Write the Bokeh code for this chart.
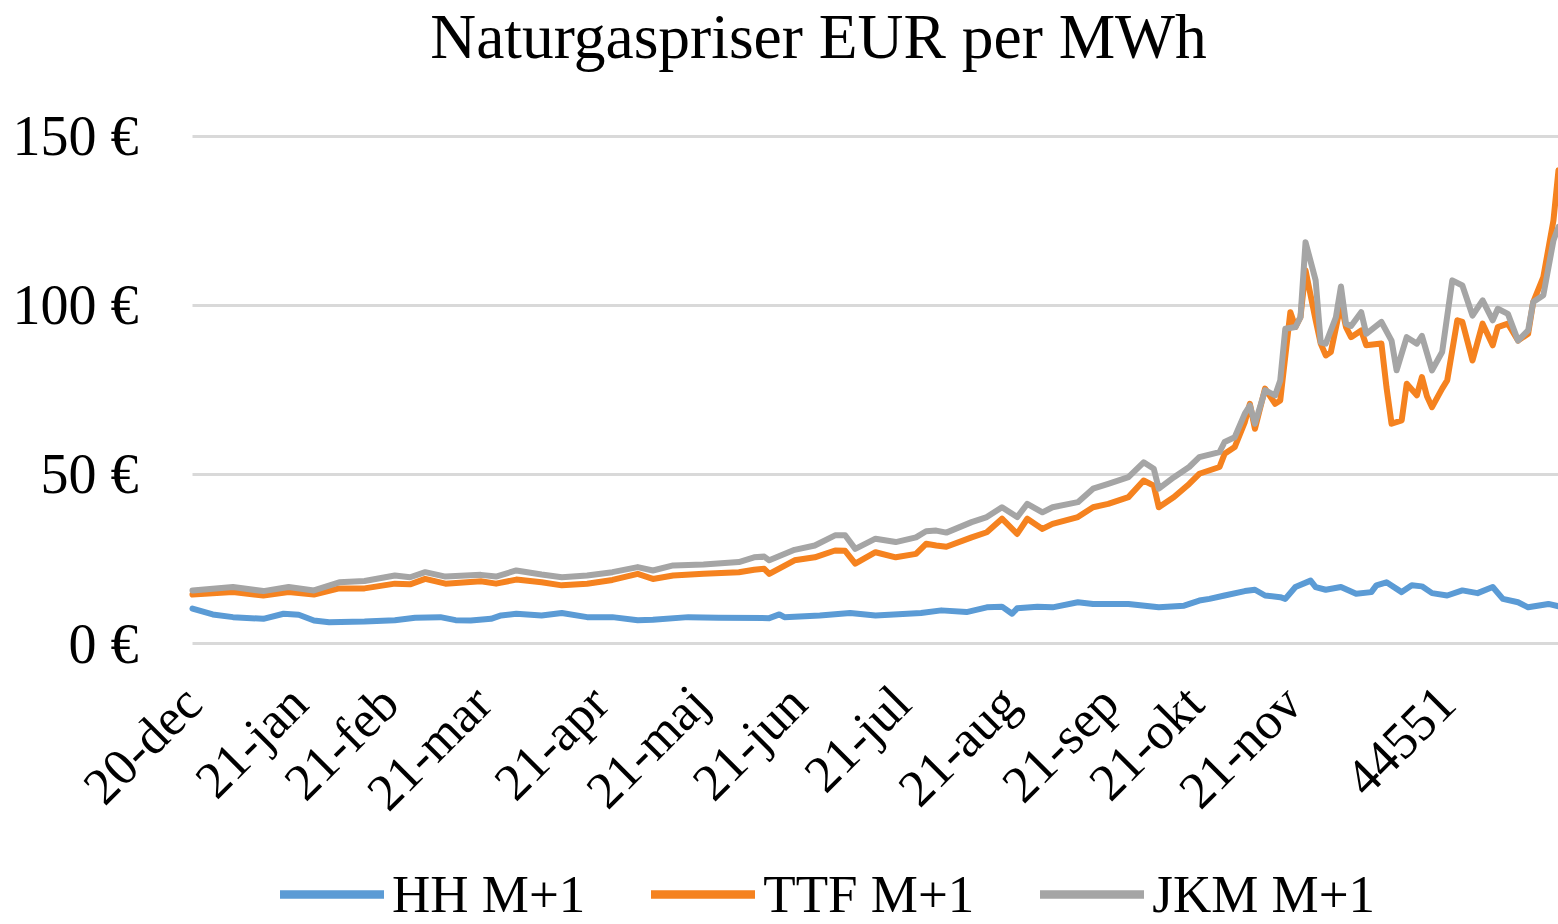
import math
import numpy as np
from bokeh.plotting import figure
from bokeh.models import FixedTicker, Range1d, Legend, LegendItem, Label, Grid
from bokeh.embed import file_html
from bokeh.resources import INLINE

TITLE = "Naturgaspriser EUR per MWh"

# x = trading-day index (0 = first observation, Dec 2020)
tick_days = [0, 20.9, 38.9, 57.3, 80.4, 100.2, 119.6, 140.1, 161.5, 181.2, 198.0, 217.4, 247.8]
tick_labels = ["20-dec", "21-jan", "21-feb", "21-mar", "21-apr", "21-maj", "21-jun",
               "21-jul", "21-aug", "21-sep", "21-okt", "21-nov", "44551"]
y_ticks = [0, 50, 100, 150]
y_labels = ["0 €", "50 €", "100 €", "150 €"]

series_names = ["HH M+1", "TTF M+1", "JKM M+1"]
series_colors = ["#5B9BD5", "#F5821F", "#A5A5A5"]

hh_day = [0, 4, 8, 14, 18, 21, 24, 27, 34, 40, 44, 49, 52, 55, 59, 61, 64, 69, 73, 78, 83, 88,
          91, 98, 104, 114, 116, 117, 124, 130, 135, 144, 148, 153, 157, 160, 162, 163, 167, 170, 175,
          178, 185, 191, 196, 199, 201, 204, 208, 210, 212, 215, 216, 218, 221, 222, 224, 227, 230,
          233, 234, 236, 239, 241, 243, 245, 248, 251, 254, 257, 259, 262, 264, 268, 270]
hh_val = [10.3, 8.6, 7.8, 7.3, 8.8, 8.5, 6.8, 6.3, 6.5, 6.9, 7.6, 7.8, 6.9, 6.8, 7.3, 8.3, 8.8, 8.3, 9.0, 7.8, 7.8, 6.9,
          7.0, 7.8, 7.6, 7.5, 8.6, 7.8, 8.3, 9.0, 8.3, 9.0, 9.8, 9.3, 10.7, 10.9, 8.8, 10.4, 10.9, 10.7, 12.2,
          11.7, 11.7, 10.7, 11.2, 12.7, 13.2, 14.2, 15.5, 15.9, 14.2, 13.7, 13.2, 16.7, 18.6, 16.7, 15.9, 16.7, 14.7,
          15.2, 17.2, 18.1, 15.2, 17.2, 16.9, 14.9, 14.2, 15.7, 14.9, 16.7, 13.2, 12.2, 10.7, 11.7, 11.0]

ttf_day = [0, 8, 14, 19, 24, 29, 34, 40, 43, 46, 50, 57, 60, 64, 69, 73, 78, 83, 88,
           91, 95, 101, 108, 111, 113, 114, 119, 123, 127, 129, 131, 135, 139, 143, 145, 147, 149, 154, 157,
           160, 163, 165, 168, 170, 175,
           178, 181, 185, 188, 190, 191, 194, 197, 199, 203, 204, 206, 208, 209, 210, 212, 214, 215, 217, 218,
           219, 220, 222, 223, 224, 225, 227, 228, 229, 231, 232, 235, 236, 237, 239, 240, 242, 243, 244, 245,
           247, 248, 250, 251, 253, 255, 257, 258, 260, 262, 264, 265, 267, 269, 270]
ttf_val = [14.5, 15.2, 14.2, 15.2, 14.5, 16.3, 16.3, 17.7, 17.5, 19.1, 17.7, 18.4, 17.7, 18.9, 18.1, 17.2, 17.7, 18.8, 20.6,
           19.1, 20.1, 20.6, 21.1, 21.8, 22.1, 20.6, 24.6, 25.5, 27.5, 27.4, 23.6, 27.0, 25.5, 26.5, 29.5, 29.0, 28.6, 31.4, 32.9,
           36.9, 32.4, 36.9, 33.9, 35.4, 37.4,
           40.3, 41.3, 43.3, 48.2, 46.7, 40.3, 43.3, 47.2, 50.2, 52.2, 56.1, 58.1, 65.5, 70.9, 63.5, 75.4, 70.9, 71.9, 98.0, 93.6,
           96.5, 110.4, 95.6, 88.7, 85.2, 86.2, 100.5, 93.6, 90.6, 92.6, 88.2, 88.7, 75.8, 65.0, 66.0, 76.8, 73.4, 78.8, 73.1, 69.9,
           75.4, 77.8, 95.6, 95.1, 83.7, 94.6, 88.2, 93.6, 94.6, 89.6, 91.6, 101.0, 108.4, 125.1, 140.0]

jkm_day = [0, 8, 14, 19, 24, 29, 34, 40, 43, 46, 50, 57, 60, 64, 69, 73, 78, 83, 88,
           91, 95, 101, 108, 111, 113, 114, 119, 123, 127, 129, 131, 135, 139, 143, 145, 147, 149, 154, 157,
           160, 163, 165, 168, 170, 175,
           178, 181, 185, 188, 190, 191, 194, 197, 199, 203, 204, 206, 208, 209, 210, 212, 214, 215, 216, 218,
           219, 220, 222, 223, 224, 226, 227, 228, 229, 231, 232, 235, 237, 238, 240, 242, 243, 245, 247, 249,
           251, 253, 255, 257, 258, 260, 262, 264, 265, 267, 269, 270]
jkm_val = [15.7, 16.7, 15.5, 16.7, 15.7, 18.1, 18.5, 20.1, 19.6, 21.1, 19.8, 20.3, 19.8, 21.6, 20.4, 19.6, 20.1, 21.1, 22.6,
           21.6, 23.1, 23.4, 24.1, 25.5, 25.7, 24.6, 27.7, 29.0, 32.0, 32.0, 28.0, 31.0, 30.0, 31.4, 33.2, 33.4, 32.8, 35.9, 37.4,
           40.3, 37.4, 41.3, 38.8, 40.3, 41.8,
           45.8, 47.2, 49.2, 53.6, 51.7, 45.8, 49.2, 52.2, 55.1, 56.6, 59.6, 61.0, 68.0, 70.4, 65.0, 74.9, 73.4, 77.8, 93.1, 93.6,
           96.5, 118.7, 107.4, 89.1, 88.7, 96.5, 105.6, 94.6, 93.9, 98.0, 91.6, 95.1, 89.6, 80.8, 90.6, 88.7, 91.0, 80.8, 86.2, 107.4,
           105.9, 97.0, 101.5, 95.6, 99.0, 97.5, 89.6, 92.6, 101.0, 103.0, 119.2, 123.2]

FONT = "Liberation Serif"
X_FIRST, X_LAST = hh_day[0], hh_day[-1]

# The frame fills the whole canvas; both axes are pinned at 0 so that the title band,
# the y labels, the rotated month labels and the legend all sit inside it.
p = figure(width=1558, height=924, output_backend="svg", toolbar_location=None,
           x_range=Range1d(-37.95, 270), y_range=Range1d(-83.11, 190.18),
           min_border_left=0, min_border_right=0, min_border_top=0, min_border_bottom=0)
p.outline_line_color = None
p.background_fill_color = "white"
p.border_fill_color = "white"

p.add_layout(Label(x=47.0, y=179.6, text=TITLE, text_font=FONT, text_font_size="63.5px",
                   text_color="black", text_align="left", text_baseline="alphabetic"))

# y axis along x = 0
p.yaxis.fixed_location = X_FIRST
p.yaxis.ticker = FixedTicker(ticks=y_ticks)
p.yaxis.major_label_overrides = {t: l for t, l in zip(y_ticks, y_labels)}
p.yaxis.axis_line_color = None
p.yaxis.major_tick_line_color = None
p.yaxis.minor_tick_line_color = None
p.yaxis.major_label_text_font = FONT
p.yaxis.major_label_text_font_size = "56px"
p.yaxis.major_label_text_color = "black"
p.yaxis.major_label_standoff = 48

# x axis along the zero line
p.xaxis.fixed_location = 0
p.xaxis.ticker = FixedTicker(ticks=tick_days)
p.xaxis.major_label_overrides = {t: l for t, l in zip(tick_days, tick_labels)}
p.xaxis.axis_line_color = None
p.xaxis.major_tick_line_color = None
p.xaxis.minor_tick_line_color = None
p.xaxis.major_label_text_font = FONT
p.xaxis.major_label_text_font_size = "52px"
p.xaxis.major_label_text_color = "black"
p.xaxis.major_label_orientation = math.pi / 4
p.xaxis.major_label_standoff = 45

p.xgrid.visible = False
if "cross_bounds" in Grid.properties():
    p.ygrid.grid_line_color = "#D9D9D9"
    p.ygrid.grid_line_width = 3
    p.ygrid.cross_bounds = (X_FIRST, X_LAST)
else:
    p.ygrid.visible = False
    p.segment(x0=[X_FIRST] * len(y_ticks), x1=[X_LAST] * len(y_ticks), y0=y_ticks, y1=y_ticks,
              line_color="#D9D9D9", line_width=3)

renderers = []
for d, v, c in [(hh_day, hh_val, series_colors[0]), (ttf_day, ttf_val, series_colors[1]), (jkm_day, jkm_val, series_colors[2])]:
    p.line(d, v, line_color=c, line_width=6, line_join="round", line_cap="round")
    # legend swatch only (no visible data), with the thicker stroke of the original legend
    renderers.append(p.line(np.array([np.nan]), np.array([np.nan]), line_color=c, line_width=8.5, line_cap="round"))

legend = Legend(items=[LegendItem(label=n, renderers=[r]) for n, r in zip(series_names, renderers)],
                orientation="horizontal", location=(280, 0))
legend.label_text_font = FONT
legend.label_text_font_size = "53px"
legend.label_text_color = "black"
legend.glyph_width = 104
legend.glyph_height = 40
legend.label_standoff = 8
legend.spacing = 66
legend.border_line_color = None
legend.background_fill_alpha = 0
legend.padding = 0
legend.margin = 0
p.add_layout(legend, "center")

open("out.html", "w").write(file_html(p, INLINE))
